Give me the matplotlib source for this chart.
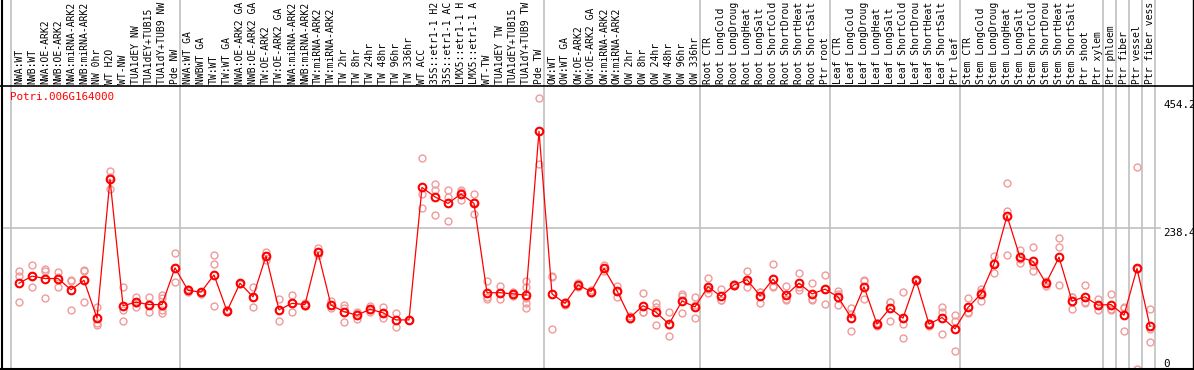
import numpy as np
import matplotlib
matplotlib.use('Agg')
import matplotlib.pyplot as plt
from matplotlib.lines import Line2D
import matplotlib.transforms as mtransforms

# sample names (top labels, as far as they show)
labels = ["NWA:WT", "NWB:WT", "NWA:OE-ARK2", "NWB:OE-ARK2", "NWA:miRNA-ARK2", "NWB:miRNA-ARK2",
          "NW 0hr", "WT H2O", "WT-NW", "TUA1dEY NW", "TUA1dEY+TUB15", "TUA1dY+TUB9 NW", "Pde NW",
          "NWA:WT GA", "NWBWT GA", "TW:WT", "TW:WT GA", "NWA:OE-ARK2 GA", "NWB:OE-ARK2 GA",
          "TW:OE-ARK2", "TW:OE-ARK2 GA", "NWA:miRNA-ARK2", "NWB:miRNA-ARK2", "TW:miRNA-ARK2",
          "TW:miRNA-ARK2", "TW 2hr", "TW 8hr", "TW 24hr", "TW 48hr", "TW 96hr", "TW 336hr", "WT ACC",
          "35S::etr1-1 H2", "35S::etr1-1 AC", "LMX5::etr1-1 H", "LMX5::etr1-1 A", "WT-TW",
          "TUA1dEY TW", "TUA1dEY+TUB15", "TUA1dY+TUB9 TW", "Pde TW",
          "OW:WT", "OW:WT GA", "OW:OE-ARK2", "OW:OE-ARK2 GA", "OW:miRNA-ARK2", "OW:miRNA-ARK2",
          "OW 2hr", "OW 8hr", "OW 24hr", "OW 48hr", "OW 96hr", "OW 336hr",
          "Root CTR", "Root LongCold", "Root LongDroug", "Root LongHeat", "Root LongSalt",
          "Root ShortCold", "Root ShortDrou", "Root ShortHeat", "Root ShortSalt", "Ptr root",
          "Leaf CTR", "Leaf LongCold", "Leaf LongDroug", "Leaf LongHeat", "Leaf LongSalt",
          "Leaf ShortCold", "Leaf ShortDrou", "Leaf ShortHeat", "Leaf ShortSalt", "Ptr leaf",
          "Stem CTR", "Stem LongCold", "Stem LongDroug", "Stem LongHeat", "Stem LongSalt",
          "Stem ShortCold", "Stem ShortDrou", "Stem ShortHeat", "Stem ShortSalt", "Ptr shoot",
          "Ptr xylem", "Ptr phloem", "Ptr fiber", "Ptr vessel", "Ptr fiber vess"]

# mean expression per sample
means = [145, 157, 153, 153, 134, 150, 86, 321, 107, 113, 109, 109, 171,
         133, 130, 159, 98, 145, 122, 191, 100, 111, 109, 197, 108, 97, 91, 101, 95, 83, 83,
         307, 291, 280, 296, 280, 129, 129, 127, 125, 402,
         127, 111, 142, 131, 170, 132, 87, 107, 96, 76, 115, 105,
         139, 123, 142, 151, 124, 152, 125, 145, 127, 135,
         122, 87, 139, 76, 103, 86, 150, 76, 87, 68,
         104, 127, 178, 259, 189, 182, 145, 189, 115, 122,
         108, 109, 91, 170, 72]

# replicate values per sample
reps = [[166, 158, 113], [176, 139, 157], [169, 166, 120], [164, 139, 155], [150, 148, 99],
        [167, 166, 114], [105, 78, 75], [335, 304, 325], [139, 99, 82], [122, 104, 112],
        [122, 96, 110], [125, 120, 100, 95], [196, 147, 170],
        [135, 131, 133], [131, 127, 130], [193, 178, 107], [99, 97, 98], [146, 144, 145],
        [139, 104, 122], [198, 184, 191], [118, 81, 100], [125, 96, 111], [111, 107, 109],
        [205, 192, 197], [115, 103, 108], [109, 79, 103], [94, 84, 96], [107, 97, 100],
        [104, 86, 95], [95, 71, 83], [83, 83, 83], [356, 296, 272], [313, 303, 260],
        [303, 290, 250], [302, 286, 300], [296, 262, 283], [149, 118, 121], [141, 118, 128],
        [130, 124, 127], [148, 139, 120, 111, 103], [458, 346, 402],
        [155, 67, 158], [114, 108, 111], [145, 139, 142], [133, 128, 131], [176, 165, 170],
        [141, 122, 132], [89, 85, 87], [128, 96, 97], [111, 74, 104], [96, 56, 75],
        [127, 95, 123], [121, 86, 109],
        [154, 128, 135], [136, 117, 116], [144, 140, 142], [166, 139, 148], [131, 111, 130],
        [177, 139, 141], [140, 117, 118], [163, 134, 138], [145, 117, 119], [159, 110, 136],
        [132, 108, 126], [103, 64, 93], [151, 118, 148], [73, 78, 77], [113, 82, 113],
        [131, 76, 52], [152, 148, 150], [73, 78, 76], [105, 97, 60], [91, 81, 30],
        [120, 97, 94], [135, 115, 130], [191, 162, 180], [314, 267, 192], [201, 179, 186],
        [206, 165, 176], [149, 141, 145], [222, 206, 142], [122, 102, 121], [142, 111, 114],
        [118, 99, 108], [127, 100, 101], [103, 64, 105], [341, 0, 169], [102, 67, 45]]

group_starts = [0, 13, 41, 53, 63, 73, 84, 85, 86, 87, 88]
y_ticks = [454.2, 238.4, 0]
gene = "Potri.006G164000"

W, H = 1194, 370
fig = plt.figure(figsize=(W / 100, H / 100), dpi=100)
# plot area in pixels: x 2..1155, y 86..369 (from top)
ax = fig.add_axes([2 / W, 1 / H, 1153 / W, 283 / H])
for s in ax.spines.values():
    s.set_visible(False)
ax.set_xticks([])
ax.set_yticks([])
ax.set_xlim(-17 / 13, 1136 / 13)
ax.set_ylim(0, 283 / 0.5914)

mono = 'DejaVu Sans Mono'
fs = 7.0
grid_c = '#c0c0c0'

x = np.arange(len(means))

# group separators, running up through the label area
for g in group_starts:
    ax.axvline(g - 0.62, ymin=0, ymax=1 + 86 / 283, color=grid_c, lw=1.2, clip_on=False, zorder=1)
ax.axhline(238.4, xmin=0, xmax=1.004, color=grid_c, lw=1.2, clip_on=False, zorder=1)

# replicates
for i, r in enumerate(reps):
    ax.plot([i] * len(r), r, 'o', ms=5, mfc='none', mec='#f09a9a', mew=1.0, zorder=2)

# means + connecting line
ax.plot(x, means, '-', color='#ff0000', lw=0.9, zorder=3)
ax.plot(x, means, 'o', ms=5.5, mfc='none', mec='#ff0000', mew=1.5, zorder=4)

# sample labels
trans = mtransforms.blended_transform_factory(ax.transData, ax.transAxes)
for i, lab in enumerate(labels):
    ax.text(i, 1 + 2.5 / 283, lab, rotation=90, ha='center', va='bottom', family=mono,
            fontsize=fs, transform=trans, clip_on=False)

# right side value labels
trans_r = mtransforms.blended_transform_factory(ax.transAxes, ax.transData)
for v in y_ticks:
    ax.text(1161 / 1153, v, ('%g' % v), ha='left', va='bottom' if v == 0 else 'top',
            family=mono, fontsize=7.8, transform=trans_r, clip_on=False)

ax.text(8 / 1153, 1 - 11 / 283, gene, color='#ff0000', family=mono, fontsize=7.8,
        ha='left', va='center', transform=ax.transAxes)

# frame lines
fig.add_artist(Line2D([0, 1], [1 - 85.5 / H, 1 - 85.5 / H], color='black', lw=1.2, transform=fig.transFigure))
fig.add_artist(Line2D([0, 1], [1.2 / H, 1.2 / H], color='black', lw=1.5, transform=fig.transFigure))
fig.add_artist(Line2D([1.5 / W, 1.5 / W], [0, 1], color='black', lw=1.5, transform=fig.transFigure))
fig.add_artist(Line2D([1 - 1 / W, 1 - 1 / W], [0, 1], color='black', lw=1.0, transform=fig.transFigure))

fig.savefig('out.png', dpi=100)
